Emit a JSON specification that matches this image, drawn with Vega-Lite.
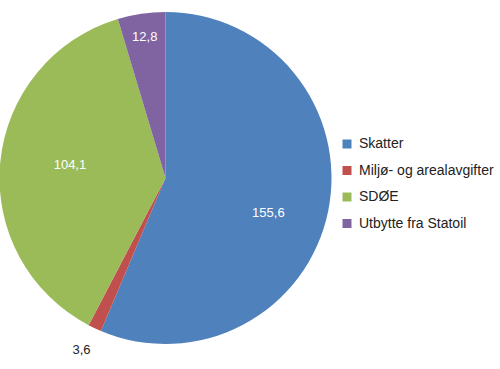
{
  "$schema": "https://vega.github.io/schema/vega-lite/v6.json",
  "width": 331,
  "height": 356,
  "autosize": "none",
  "padding": {"left": 0, "top": 0, "right": 169, "bottom": 13},
  "background": "white",
  "config": {"view": {"stroke": null}, "font": "Liberation Sans"},
  "data": {
    "values": [
      {"i": 1, "kategori": "Skatter", "verdi": 155.6, "etikett": "155,6"},
      {"i": 2, "kategori": "Miljø- og arealavgifter", "verdi": 3.6, "etikett": "3,6"},
      {"i": 3, "kategori": "SDØE", "verdi": 104.1, "etikett": "104,1"},
      {"i": 4, "kategori": "Utbytte fra Statoil", "verdi": 12.8, "etikett": "12,8"}
    ]
  },
  "encoding": {
    "theta": {"field": "verdi", "type": "quantitative", "stack": true},
    "order": {"field": "i", "type": "quantitative"},
    "color": {
      "field": "kategori",
      "type": "nominal",
      "scale": {
        "domain": ["Skatter", "Miljø- og arealavgifter", "SDØE", "Utbytte fra Statoil"],
        "range": ["#4F81BD", "#C0504D", "#9BBB59", "#8064A2"]
      },
      "legend": {
        "title": null,
        "orient": "none",
        "legendX": 340,
        "legendY": 137,
        "symbolType": "square",
        "symbolSize": 81,
        "symbolStrokeWidth": 0,
        "labelFont": "Liberation Sans",
        "labelFontSize": 14,
        "labelColor": "#222222",
        "rowPadding": 12.5,
        "labelOffset": 5
      }
    }
  },
  "layer": [
    {"mark": {"type": "arc", "outerRadius": 166, "stroke": null}},
    {
      "mark": {"type": "text", "radius": 108, "dx": -3, "dy": 14, "fontSize": 13, "font": "Liberation Sans"},
      "encoding": {
        "text": {"condition": {"test": "datum.i == 1", "field": "etikett"}, "value": ""},
        "color": {"value": "white"}
      }
    },
    {
      "mark": {"type": "text", "radius": 190, "dx": -3, "fontSize": 13, "font": "Liberation Sans"},
      "encoding": {
        "text": {"condition": {"test": "datum.i == 2", "field": "etikett"}, "value": ""},
        "color": {"value": "#222222"}
      }
    },
    {
      "mark": {"type": "text", "radius": 96, "dy": -4, "fontSize": 13, "font": "Liberation Sans"},
      "encoding": {
        "text": {"condition": {"test": "datum.i == 3", "field": "etikett"}, "value": ""},
        "color": {"value": "white"}
      }
    },
    {
      "mark": {"type": "text", "radius": 143, "fontSize": 13, "font": "Liberation Sans"},
      "encoding": {
        "text": {"condition": {"test": "datum.i == 4", "field": "etikett"}, "value": ""},
        "color": {"value": "white"}
      }
    }
  ]
}
